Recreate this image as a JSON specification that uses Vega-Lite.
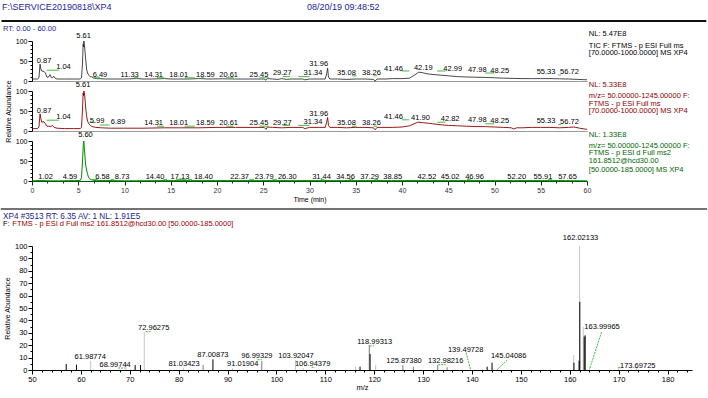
{
"$schema": "https://vega.github.io/schema/vega-lite/v6.json",
"padding": {"left": 0, "right": 0, "top": 2, "bottom": 0},
"config": {
 "font": "Liberation Sans",
 "view": {"stroke": null},
 "axis": {"labelFont": "Liberation Sans", "labelFontSize": 7, "labelColor": "#000", "domainColor": "#000", "tickColor": "#000", "grid": false, "titleFont": "Liberation Sans", "titleFontSize": 7, "titleFontWeight": "normal", "titleColor": "#000", "domainWidth": 1, "tickWidth": 1, "tickSize": 3, "labelOverlap": false, "labelFlush": false, "labelBound": false, "tickCount": 500},
 "text": {"font": "Liberation Sans", "fontSize": 7.5}
},
"datasets": {
 "trace": [
  {"p":1,"t":0,"v":5},{"p":1,"t":0.6,"v":5},{"p":1,"t":0.75,"v":8},{"p":1,"t":0.87,"v":42},{"p":1,"t":0.95,"v":30},{"p":1,"t":1.05,"v":25},{"p":1,"t":1.3,"v":24},{"p":1,"t":1.45,"v":20},{"p":1,"t":1.6,"v":10},{"p":1,"t":1.75,"v":9},{"p":1,"t":1.95,"v":16},{"p":1,"t":2.1,"v":8},{"p":1,"t":2.2,"v":8},{"p":1,"t":2.35,"v":12},{"p":1,"t":2.5,"v":7},{"p":1,"t":2.7,"v":5},{"p":1,"t":3.5,"v":5},{"p":1,"t":4.5,"v":5},{"p":1,"t":5.2,"v":5},{"p":1,"t":5.35,"v":8},{"p":1,"t":5.45,"v":40},{"p":1,"t":5.53,"v":92},{"p":1,"t":5.58,"v":85},{"p":1,"t":5.61,"v":100},{"p":1,"t":5.7,"v":82},{"p":1,"t":5.8,"v":55},{"p":1,"t":5.9,"v":30},{"p":1,"t":6.0,"v":20},{"p":1,"t":6.15,"v":14},{"p":1,"t":6.3,"v":11},{"p":1,"t":6.49,"v":10},{"p":1,"t":6.7,"v":7},{"p":1,"t":7.0,"v":6},{"p":1,"t":8,"v":5},{"p":1,"t":9,"v":5},{"p":1,"t":10,"v":5},{"p":1,"t":11.33,"v":6},{"p":1,"t":12,"v":5},{"p":1,"t":13,"v":5},{"p":1,"t":14.31,"v":6},{"p":1,"t":15,"v":5},{"p":1,"t":16,"v":5},{"p":1,"t":17,"v":5},{"p":1,"t":18.01,"v":6},{"p":1,"t":18.59,"v":5.5},{"p":1,"t":19,"v":5},{"p":1,"t":20.61,"v":5.5},{"p":1,"t":22,"v":5},{"p":1,"t":23,"v":5},{"p":1,"t":24,"v":5},{"p":1,"t":25.1,"v":5},{"p":1,"t":25.3,"v":2},{"p":1,"t":25.45,"v":6},{"p":1,"t":26,"v":5},{"p":1,"t":26.6,"v":4},{"p":1,"t":27,"v":6},{"p":1,"t":27.5,"v":4},{"p":1,"t":28,"v":5},{"p":1,"t":29.27,"v":5},{"p":1,"t":29.5,"v":3},{"p":1,"t":30,"v":5},{"p":1,"t":31,"v":5},{"p":1,"t":31.7,"v":5},{"p":1,"t":31.85,"v":18},{"p":1,"t":31.96,"v":32},{"p":1,"t":32.05,"v":10},{"p":1,"t":32.2,"v":5},{"p":1,"t":33,"v":5},{"p":1,"t":34,"v":4},{"p":1,"t":35.08,"v":5},{"p":1,"t":36,"v":5},{"p":1,"t":36.9,"v":4},{"p":1,"t":37.1,"v":0},{"p":1,"t":37.3,"v":5},{"p":1,"t":38.26,"v":5},{"p":1,"t":39,"v":6},{"p":1,"t":40,"v":6},{"p":1,"t":40.8,"v":7},{"p":1,"t":41.3,"v":14},{"p":1,"t":41.8,"v":22},{"p":1,"t":42.19,"v":21},{"p":1,"t":42.5,"v":19},{"p":1,"t":43,"v":17},{"p":1,"t":44,"v":15},{"p":1,"t":45,"v":13},{"p":1,"t":46,"v":11},{"p":1,"t":47,"v":10},{"p":1,"t":48,"v":9.5},{"p":1,"t":49,"v":9},{"p":1,"t":50,"v":8},{"p":1,"t":51,"v":7},{"p":1,"t":52,"v":6.5},{"p":1,"t":53,"v":6},{"p":1,"t":54,"v":6},{"p":1,"t":55,"v":6},{"p":1,"t":56,"v":6},{"p":1,"t":57,"v":5.5},{"p":1,"t":58,"v":5},{"p":1,"t":59,"v":4},{"p":1,"t":60,"v":3},
  {"p":2,"t":0,"v":6},{"p":2,"t":0.6,"v":6},{"p":2,"t":0.75,"v":10},{"p":2,"t":0.87,"v":43},{"p":2,"t":0.95,"v":32},{"p":2,"t":1.05,"v":22},{"p":2,"t":1.3,"v":23},{"p":2,"t":1.45,"v":18},{"p":2,"t":1.6,"v":12},{"p":2,"t":1.8,"v":12},{"p":2,"t":2.0,"v":11},{"p":2,"t":2.2,"v":14},{"p":2,"t":2.4,"v":9},{"p":2,"t":2.7,"v":7},{"p":2,"t":3.5,"v":6},{"p":2,"t":4.5,"v":6},{"p":2,"t":5.2,"v":6},{"p":2,"t":5.35,"v":9},{"p":2,"t":5.45,"v":50},{"p":2,"t":5.53,"v":95},{"p":2,"t":5.58,"v":88},{"p":2,"t":5.61,"v":100},{"p":2,"t":5.7,"v":88},{"p":2,"t":5.8,"v":60},{"p":2,"t":5.9,"v":38},{"p":2,"t":6.0,"v":25},{"p":2,"t":6.15,"v":18},{"p":2,"t":6.3,"v":14},{"p":2,"t":6.5,"v":11},{"p":2,"t":6.89,"v":9},{"p":2,"t":7.5,"v":8},{"p":2,"t":8.5,"v":7},{"p":2,"t":10,"v":7},{"p":2,"t":12,"v":7},{"p":2,"t":14.31,"v":8},{"p":2,"t":16,"v":8},{"p":2,"t":18,"v":8},{"p":2,"t":20,"v":9},{"p":2,"t":22,"v":9},{"p":2,"t":24,"v":9},{"p":2,"t":25.1,"v":9},{"p":2,"t":25.3,"v":4},{"p":2,"t":25.45,"v":10},{"p":2,"t":26,"v":9},{"p":2,"t":27,"v":8},{"p":2,"t":28,"v":9},{"p":2,"t":29.27,"v":9},{"p":2,"t":29.5,"v":6},{"p":2,"t":30,"v":9},{"p":2,"t":31,"v":9},{"p":2,"t":31.7,"v":9},{"p":2,"t":31.85,"v":22},{"p":2,"t":31.96,"v":34},{"p":2,"t":32.05,"v":14},{"p":2,"t":32.2,"v":9},{"p":2,"t":33,"v":9},{"p":2,"t":34,"v":8},{"p":2,"t":35,"v":9},{"p":2,"t":36,"v":9},{"p":2,"t":36.9,"v":8},{"p":2,"t":37.1,"v":3},{"p":2,"t":37.3,"v":9},{"p":2,"t":38.26,"v":9},{"p":2,"t":39,"v":9},{"p":2,"t":40,"v":10},{"p":2,"t":40.8,"v":13},{"p":2,"t":41.3,"v":18},{"p":2,"t":41.7,"v":22},{"p":2,"t":42.2,"v":21},{"p":2,"t":43,"v":19},{"p":2,"t":44,"v":16},{"p":2,"t":45,"v":14},{"p":2,"t":46,"v":13},{"p":2,"t":47,"v":12},{"p":2,"t":48,"v":11},{"p":2,"t":49,"v":11},{"p":2,"t":50,"v":10},{"p":2,"t":51,"v":9},{"p":2,"t":51.8,"v":8},{"p":2,"t":52.1,"v":5},{"p":2,"t":52.4,"v":8},{"p":2,"t":53,"v":8},{"p":2,"t":54,"v":9},{"p":2,"t":55,"v":9},{"p":2,"t":56,"v":9},{"p":2,"t":57,"v":8},{"p":2,"t":58,"v":9},{"p":2,"t":58.6,"v":10},{"p":2,"t":59.2,"v":7},{"p":2,"t":60,"v":4},
  {"p":3,"t":0,"v":0.5},{"p":3,"t":1.02,"v":1.2},{"p":3,"t":2,"v":0.5},{"p":3,"t":3,"v":0.5},{"p":3,"t":4.59,"v":1},{"p":3,"t":5.2,"v":1},{"p":3,"t":5.35,"v":8},{"p":3,"t":5.45,"v":45},{"p":3,"t":5.55,"v":92},{"p":3,"t":5.6,"v":100},{"p":3,"t":5.68,"v":75},{"p":3,"t":5.78,"v":45},{"p":3,"t":5.88,"v":30},{"p":3,"t":6.0,"v":18},{"p":3,"t":6.1,"v":10},{"p":3,"t":6.3,"v":4},{"p":3,"t":6.58,"v":2},{"p":3,"t":7,"v":1},{"p":3,"t":8.73,"v":1},{"p":3,"t":10,"v":0.5},{"p":3,"t":14.4,"v":1},{"p":3,"t":17.13,"v":1},{"p":3,"t":18.4,"v":1},{"p":3,"t":22.37,"v":1},{"p":3,"t":23.79,"v":1},{"p":3,"t":26.3,"v":1},{"p":3,"t":31.44,"v":1},{"p":3,"t":34.56,"v":1},{"p":3,"t":37.29,"v":1},{"p":3,"t":38.85,"v":1},{"p":3,"t":42.52,"v":1},{"p":3,"t":45.02,"v":1},{"p":3,"t":46.96,"v":1},{"p":3,"t":52.2,"v":1},{"p":3,"t":55.91,"v":1},{"p":3,"t":57.65,"v":1},{"p":3,"t":60,"v":0.5}
 ],
 "marks": [
  {"p":1,"t":1.6,"t2":2.9,"v":27},{"p":1,"t":6.6,"t2":7.35,"v":8},{"p":1,"t":11.0,"t2":11.5,"v":8},{"p":1,"t":13.5,"t2":14.3,"v":8},{"p":1,"t":16.5,"t2":17.6,"v":8},{"p":1,"t":18.3,"t2":18.6,"v":8},{"p":1,"t":21.0,"t2":21.8,"v":8},{"p":1,"t":24.6,"t2":25.6,"v":8},{"p":1,"t":27.1,"t2":27.9,"v":11},{"p":1,"t":28.8,"t2":30.0,"v":11},{"p":1,"t":34.6,"t2":35.1,"v":13},{"p":1,"t":36.9,"t2":37.3,"v":13},{"p":1,"t":40.0,"t2":40.8,"v":25},{"p":1,"t":43.8,"t2":44.7,"v":25},{"p":1,"t":49.0,"t2":49.95,"v":20},{"p":1,"t":56.9,"t2":57.2,"v":15},
  {"p":2,"t":1.6,"t2":2.9,"v":27},{"p":2,"t":6.2,"t2":6.8,"v":22},{"p":2,"t":7.35,"t2":8.4,"v":15},{"p":2,"t":13.5,"t2":14.3,"v":12},{"p":2,"t":16.5,"t2":17.6,"v":12},{"p":2,"t":21.0,"t2":21.8,"v":12},{"p":2,"t":24.6,"t2":25.6,"v":12},{"p":2,"t":27.1,"t2":27.9,"v":14},{"p":2,"t":28.8,"t2":30.0,"v":14},{"p":2,"t":34.6,"t2":35.1,"v":12},{"p":2,"t":36.9,"t2":37.3,"v":12},{"p":2,"t":40.0,"t2":40.8,"v":28},{"p":2,"t":43.8,"t2":44.7,"v":22},{"p":2,"t":49.0,"t2":49.95,"v":18},{"p":2,"t":56.9,"t2":57.2,"v":16},
  {"p":3,"t":6.3,"t2":7.1,"v":4},{"p":3,"t":8.5,"t2":8.9,"v":4},{"p":3,"t":14.2,"t2":14.6,"v":4},{"p":3,"t":15.6,"t2":16.7,"v":4},{"p":3,"t":16.9,"t2":17.3,"v":4},{"p":3,"t":23.5,"t2":24.0,"v":4},{"p":3,"t":26.0,"t2":26.5,"v":4},{"p":3,"t":31.2,"t2":31.6,"v":4},{"p":3,"t":34.3,"t2":34.7,"v":4},{"p":3,"t":37.0,"t2":37.4,"v":4},{"p":3,"t":47.0,"t2":47.4,"v":4},{"p":3,"t":55.8,"t2":56.2,"v":4}
 ],
 "seps": [
  {"p":1,"t":-3.3,"t2":72.9,"v":150}
 ],
 "labels": [
  {"p":1,"rt":"0.87","t":1.3,"v":45},{"p":1,"rt":"1.04","t":3.4,"v":30},{"p":1,"rt":"5.61","t":5.57,"v":107.5},{"p":1,"rt":"6.49","t":7.35,"v":10},{"p":1,"rt":"11.33","t":10.56,"v":10},{"p":1,"rt":"14.31","t":13.15,"v":10},{"p":1,"rt":"18.01","t":15.86,"v":10},{"p":1,"rt":"18.59","t":18.74,"v":11},{"p":1,"rt":"20.61","t":21.26,"v":11},{"p":1,"rt":"25.45","t":24.54,"v":11},{"p":1,"rt":"29.27","t":27.06,"v":14},{"p":1,"rt":"31.34","t":30.38,"v":15},{"p":1,"rt":"31.96","t":31.0,"v":37.5},{"p":1,"rt":"35.08","t":34.0,"v":15},{"p":1,"rt":"38.26","t":36.7,"v":15},{"p":1,"rt":"41.46","t":39.08,"v":26},{"p":1,"rt":"42.19","t":42.3,"v":27.5},{"p":1,"rt":"42.99","t":45.48,"v":25},{"p":1,"rt":"47.98","t":48.14,"v":22.5},{"p":1,"rt":"48.25","t":50.56,"v":21},{"p":1,"rt":"55.33","t":55.57,"v":17.5},{"p":1,"rt":"56.72","t":58.1,"v":17.5},
  {"p":2,"rt":"0.87","t":1.3,"v":46},{"p":2,"rt":"1.04","t":3.4,"v":29},{"p":2,"rt":"5.61","t":5.53,"v":109},{"p":2,"rt":"5.99","t":7.03,"v":21},{"p":2,"rt":"6.89","t":9.3,"v":17},{"p":2,"rt":"14.31","t":13.15,"v":15},{"p":2,"rt":"18.01","t":15.86,"v":15},{"p":2,"rt":"18.59","t":18.74,"v":14},{"p":2,"rt":"20.61","t":21.26,"v":14},{"p":2,"rt":"25.45","t":24.54,"v":14},{"p":2,"rt":"29.27","t":27.06,"v":16},{"p":2,"rt":"31.34","t":30.38,"v":17.5},{"p":2,"rt":"31.96","t":31.0,"v":38},{"p":2,"rt":"35.08","t":34.0,"v":14},{"p":2,"rt":"38.26","t":36.7,"v":14},{"p":2,"rt":"41.46","t":39.08,"v":30},{"p":2,"rt":"41.90","t":42.0,"v":28},{"p":2,"rt":"42.82","t":45.2,"v":24},{"p":2,"rt":"47.98","t":48.14,"v":22},{"p":2,"rt":"48.25","t":50.56,"v":20},{"p":2,"rt":"55.33","t":55.57,"v":20},{"p":2,"rt":"56.72","t":58.1,"v":18},
  {"p":3,"rt":"1.02","t":1.46,"v":4},{"p":3,"rt":"4.59","t":4.1,"v":4},{"p":3,"rt":"5.60","t":5.78,"v":110},{"p":3,"rt":"6.58","t":7.62,"v":4},{"p":3,"rt":"8.73","t":9.73,"v":4},{"p":3,"rt":"14.40","t":13.3,"v":4},{"p":3,"rt":"17.13","t":16.0,"v":4},{"p":3,"rt":"18.40","t":18.54,"v":4},{"p":3,"rt":"22.37","t":22.45,"v":4},{"p":3,"rt":"23.79","t":25.1,"v":4},{"p":3,"rt":"26.30","t":27.6,"v":4},{"p":3,"rt":"31.44","t":31.3,"v":4},{"p":3,"rt":"34.56","t":33.9,"v":4},{"p":3,"rt":"37.29","t":36.5,"v":4},{"p":3,"rt":"38.85","t":39.0,"v":4},{"p":3,"rt":"42.52","t":42.7,"v":4},{"p":3,"rt":"45.02","t":45.2,"v":4},{"p":3,"rt":"46.96","t":47.84,"v":4},{"p":3,"rt":"52.20","t":52.4,"v":4},{"p":3,"rt":"55.91","t":55.24,"v":4},{"p":3,"rt":"57.65","t":57.9,"v":4}
 ],
 "notes": [
  {"p":1,"k":"head","t":-3.24,"v":178.75,"text":"F:\\SERVICE20190818\\XP4"},
  {"p":1,"k":"head","t":29.73,"v":178.75,"text":"08/20/19 09:48:52"},
  {"p":1,"k":"rt","t":-3.14,"v":125,"text":"RT: 0.00 - 60.00"},
  {"p":1,"k":"nl","t":60.2,"v":112.5,"text":"NL: 5.47E8"},
  {"p":1,"k":"nl","t":60.2,"v":82.5,"text":"TIC F: FTMS - p ESI Full ms"},
  {"p":1,"k":"nl","t":60.2,"v":64,"text":"[70.0000-1000.0000] MS XP4"},
  {"p":2,"k":"nl","t":60.2,"v":110,"text":"NL: 5.33E8"},
  {"p":2,"k":"nl","t":60.2,"v":82.5,"text":"m/z= 50.00000-1245.00000 F:"},
  {"p":2,"k":"nl","t":60.2,"v":62.5,"text":"FTMS - p ESI Full ms"},
  {"p":2,"k":"nl","t":60.2,"v":45,"text":"[70.0000-1000.0000] MS XP4"},
  {"p":3,"k":"nl","t":60.2,"v":110,"text":"NL: 1.33E8"},
  {"p":3,"k":"nl","t":60.2,"v":82.5,"text":"m/z= 50.00000-1245.00000 F:"},
  {"p":3,"k":"nl","t":60.2,"v":65,"text":"FTMS - p ESI d Full ms2"},
  {"p":3,"k":"nl","t":60.2,"v":45,"text":"161.8512@hcd30.00"},
  {"p":3,"k":"nl","t":60.2,"v":22.5,"text":"[50.0000-185.0000] MS XP4"},
  {"p":4,"k":"scan","t":44.07,"v":121.8,"text":"XP4 #3513  RT: 6.35  AV: 1  NL: 1.91E5"},
  {"p":4,"k":"f","t":44.07,"v":116.1,"text":"F:"},
  {"p":4,"k":"filter","t":45.98,"v":116.1,"text":"FTMS - p ESI d Full ms2 161.8512@hcd30.00 [50.0000-185.0000]"}
 ],
 "sticks": [
  {"mz":62.0,"i":7.5,"k":"light"},{"mz":69.2,"i":5.9,"k":"light"},{"mz":72.96,"i":30.5,"k":"light"},{"mz":81.0,"i":2.0,"k":"light"},{"mz":91.0,"i":1.5,"k":"light"},{"mz":103.92,"i":8.0,"k":"light"},{"mz":105.5,"i":1.5,"k":"light"},{"mz":116.2,"i":2.7,"k":"light"},{"mz":120.3,"i":4,"k":"light"},{"mz":160.8,"i":12.1,"k":"light"},{"mz":162.02,"i":100,"k":"light"},{"mz":162.75,"i":34.7,"k":"light"},{"mz":164.0,"i":1.5,"k":"light"},{"mz":170.0,"i":1.5,"k":"light"},{"mz":173.7,"i":1.5,"k":"light"},
  {"mz":85.0,"i":4.0,"k":"gray"},{"mz":97.0,"i":7.2,"k":"gray"},{"mz":118.99,"i":20.2,"k":"gray"},{"mz":125.87,"i":4,"k":"gray"},{"mz":128.0,"i":2.7,"k":"gray"},{"mz":133.0,"i":4,"k":"gray"},{"mz":134.9,"i":2.2,"k":"gray"},
  {"mz":57.0,"i":4.8,"k":"dark"},{"mz":59.1,"i":4.3,"k":"dark"},{"mz":71.1,"i":4.0,"k":"dark"},{"mz":72.2,"i":4.0,"k":"dark"},{"mz":87.01,"i":8.6,"k":"dark"},{"mz":117.1,"i":2.7,"k":"dark"},{"mz":119.15,"i":13,"k":"dark"},{"mz":143.1,"i":2.7,"k":"dark"},{"mz":144.1,"i":5.9,"k":"dark"},{"mz":160.85,"i":5.9,"k":"dark"},{"mz":161.9,"i":7.5,"k":"dark"},{"mz":162.05,"i":55,"k":"dark"},{"mz":162.95,"i":27,"k":"dark"},{"mz":163.15,"i":28,"k":"dark"}
 ],
 "leaders": [
  {"mz":67.6,"i":1.6,"mz2":69.0,"i2":1.6},{"mz":73.25,"i":30.9,"mz2":74.5,"i2":30.9},{"mz":96.1,"i":8.3,"mz2":97.0,"i2":8.3},{"mz":107.2,"i":2.2,"mz2":107.9,"i2":2.2},{"mz":119.06,"i":19.4,"mz2":119.9,"i2":19.4},{"mz":133.1,"i":4.3,"mz2":134.6,"i2":4.3},{"mz":138.8,"i":14,"mz2":139.7,"i2":0.5},{"mz":147.2,"i":8,"mz2":145.15,"i2":0.5},{"mz":166.5,"i":30.6,"mz2":164.1,"i2":1.4},{"mz":169.9,"i":1.9,"mz2":170.6,"i2":1.9}
 ],
 "slabels": [
  {"lab":"61.98774","mz":61.9,"i":8.6},{"lab":"68.99744","mz":67.0,"i":2.7},{"lab":"72.96275","mz":74.9,"i":32},{"lab":"81.03423","mz":81.1,"i":3.2},{"lab":"87.00873","mz":87.0,"i":10.7},{"lab":"91.01904","mz":93.1,"i":3.2},{"lab":"96.99329","mz":96.0,"i":9.4},{"lab":"103.92047","mz":104.0,"i":9.9},{"lab":"106.94379","mz":107.4,"i":3.5},{"lab":"118.99313","mz":120.1,"i":20.7},{"lab":"125.87380","mz":126.1,"i":5.9},{"lab":"132.98216","mz":134.6,"i":5.4},{"lab":"139.49728","mz":138.7,"i":14.8},{"lab":"145.04086","mz":147.5,"i":9.4},{"lab":"162.02133","mz":162.2,"i":104.8},{"lab":"163.99965","mz":166.6,"i":32.8},{"lab":"173.69725","mz":173.9,"i":1.9}
 ]
},
"vconcat": [
 {
  "vconcat": [
   {
    "width": 555, "height": 40,
    "layer": [
     {"data": {"name": "trace"}, "transform": [{"filter": "datum.p == 1"}],
      "mark": {"type": "line", "color": "#1a1a1a", "strokeWidth": 0.8},
      "encoding": {
       "x": {"field": "t", "type": "quantitative", "scale": {"domain": [0, 60], "nice": false, "zero": false}, "axis": {"title": null, "labels": false, "ticks": false, "domainColor": "#9a9a9a"}},
       "y": {"field": "v", "type": "quantitative", "scale": {"domain": [0, 100], "nice": false, "zero": false}, "axis": {"title": null, "format": "d", "tickCount": 500, "values": [0,10,20,30,40,50,60,70,80,90,100], "labelExpr": "datum.value % 50 == 0 ? datum.label : ''", "tickSize": {"condition": {"test": "datum.value % 50 == 0", "value": 4}, "value": 2}, "labelPadding": 1, "labelOverlap": false}}
      }},
     {"data": {"name": "marks"}, "transform": [{"filter": "datum.p == 1"}],
      "mark": {"type": "rule", "color": "#3cbf3c", "strokeWidth": 1},
      "encoding": {"x": {"field": "t", "type": "quantitative"}, "x2": {"field": "t2"}, "y": {"field": "v", "type": "quantitative"}}},
     {"data": {"name": "seps"},
      "mark": {"type": "rule", "color": "#111", "strokeWidth": 2, "clip": false},
      "encoding": {"x": {"field": "t", "type": "quantitative"}, "x2": {"field": "t2"}, "y": {"field": "v", "type": "quantitative"}}},
     {"data": {"name": "labels"}, "transform": [{"filter": "datum.p == 1"}],
      "mark": {"type": "text", "align": "center", "baseline": "alphabetic", "fontSize": 7.5, "color": "#000", "clip": false},
      "encoding": {"x": {"field": "t", "type": "quantitative"}, "y": {"field": "v", "type": "quantitative"}, "text": {"field": "rt"}}},
     {"data": {"name": "notes"}, "transform": [{"filter": "datum.p == 1 && datum.k == 'nl'"}],
      "mark": {"type": "text", "align": "left", "baseline": "alphabetic", "fontSize": 7.5, "color": "#000", "clip": false},
      "encoding": {"x": {"field": "t", "type": "quantitative"}, "y": {"field": "v", "type": "quantitative"}, "text": {"field": "text"}}},
     {"data": {"name": "notes"}, "transform": [{"filter": "datum.k == 'head'"}],
      "mark": {"type": "text", "align": "left", "baseline": "alphabetic", "fontSize": 9, "color": "#24249c", "clip": false},
      "encoding": {"x": {"field": "t", "type": "quantitative"}, "y": {"field": "v", "type": "quantitative"}, "text": {"field": "text"}}},
     {"data": {"name": "notes"}, "transform": [{"filter": "datum.k == 'rt'"}],
      "mark": {"type": "text", "align": "left", "baseline": "alphabetic", "fontSize": 7.5, "color": "#24249c", "clip": false},
      "encoding": {"x": {"field": "t", "type": "quantitative"}, "y": {"field": "v", "type": "quantitative"}, "text": {"field": "text"}}}
    ]
   },
   {
    "width": 555, "height": 40,
    "layer": [
     {"data": {"name": "trace"}, "transform": [{"filter": "datum.p == 2"}],
      "mark": {"type": "line", "color": "#8b0000", "strokeWidth": 0.9},
      "encoding": {
       "x": {"field": "t", "type": "quantitative", "scale": {"domain": [0, 60], "nice": false, "zero": false}, "axis": {"title": null, "labels": false, "ticks": false, "domainColor": "#9a9a9a"}},
       "y": {"field": "v", "type": "quantitative", "scale": {"domain": [0, 100], "nice": false, "zero": false}, "axis": {"title": "Relative Abundance", "titlePadding": 4, "format": "d", "tickCount": 500, "values": [0,10,20,30,40,50,60,70,80,90,100], "labelExpr": "datum.value % 50 == 0 ? datum.label : ''", "tickSize": {"condition": {"test": "datum.value % 50 == 0", "value": 4}, "value": 2}, "labelPadding": 1, "labelOverlap": false}}
      }},
     {"data": {"name": "marks"}, "transform": [{"filter": "datum.p == 2"}],
      "mark": {"type": "rule", "color": "#3cbf3c", "strokeWidth": 1},
      "encoding": {"x": {"field": "t", "type": "quantitative"}, "x2": {"field": "t2"}, "y": {"field": "v", "type": "quantitative"}}},
     {"data": {"name": "labels"}, "transform": [{"filter": "datum.p == 2"}],
      "mark": {"type": "text", "align": "center", "baseline": "alphabetic", "fontSize": 7.5, "color": "#000", "clip": false},
      "encoding": {"x": {"field": "t", "type": "quantitative"}, "y": {"field": "v", "type": "quantitative"}, "text": {"field": "rt"}}},
     {"data": {"name": "notes"}, "transform": [{"filter": "datum.p == 2"}],
      "mark": {"type": "text", "align": "left", "baseline": "alphabetic", "fontSize": 7.5, "color": "#8b0000", "clip": false},
      "encoding": {"x": {"field": "t", "type": "quantitative"}, "y": {"field": "v", "type": "quantitative"}, "text": {"field": "text"}}}
    ]
   },
   {
    "width": 555, "height": 40,
    "layer": [
     {"data": {"name": "trace"}, "transform": [{"filter": "datum.p == 3"}],
      "mark": {"type": "line", "color": "#008a00", "strokeWidth": 1},
      "encoding": {
       "x": {"field": "t", "type": "quantitative", "scale": {"domain": [0, 60], "nice": false, "zero": false}, "axis": {"title": "Time (min)", "titlePadding": 2, "tickCount": 500, "values": [0,1.667,3.333,5,6.667,8.333,10,11.667,13.333,15,16.667,18.333,20,21.667,23.333,25,26.667,28.333,30,31.667,33.333,35,36.667,38.333,40,41.667,43.333,45,46.667,48.333,50,51.667,53.333,55,56.667,58.333,60], "labelExpr": "abs(datum.value - 5*round(datum.value/5)) < 0.01 ? format(datum.value, 'd') : ''", "tickSize": {"condition": {"test": "abs(datum.value - 5*round(datum.value/5)) < 0.01", "value": 4}, "value": 2}, "labelOverlap": false, "domainColor": "#005a00", "tickColor": "#003a00", "labelColor": "#333", "labelPadding": 1}},
       "y": {"field": "v", "type": "quantitative", "scale": {"domain": [0, 100], "nice": false, "zero": false}, "axis": {"title": null, "format": "d", "tickCount": 500, "values": [0,10,20,30,40,50,60,70,80,90,100], "labelExpr": "datum.value % 50 == 0 ? datum.label : ''", "tickSize": {"condition": {"test": "datum.value % 50 == 0", "value": 4}, "value": 2}, "labelPadding": 1, "labelOverlap": false}}
      }},
     {"data": {"name": "marks"}, "transform": [{"filter": "datum.p == 3"}],
      "mark": {"type": "rule", "color": "#3cbf3c", "strokeWidth": 1},
      "encoding": {"x": {"field": "t", "type": "quantitative"}, "x2": {"field": "t2"}, "y": {"field": "v", "type": "quantitative"}}},
     {"data": {"name": "labels"}, "transform": [{"filter": "datum.p == 3"}],
      "mark": {"type": "text", "align": "center", "baseline": "alphabetic", "fontSize": 7.5, "color": "#000", "clip": false},
      "encoding": {"x": {"field": "t", "type": "quantitative"}, "y": {"field": "v", "type": "quantitative"}, "text": {"field": "rt"}}},
     {"data": {"name": "notes"}, "transform": [{"filter": "datum.p == 3"}],
      "mark": {"type": "text", "align": "left", "baseline": "alphabetic", "fontSize": 7.5, "color": "#006400", "clip": false},
      "encoding": {"x": {"field": "t", "type": "quantitative"}, "y": {"field": "v", "type": "quantitative"}, "text": {"field": "text"}}}
    ]
   }
  ],
  "spacing": 10,
  "bounds": "flush"
 },
 {
  "width": 660, "height": 124,
  "layer": [
   {"data": {"name": "sticks"},
    "mark": {"type": "rule", "strokeWidth": 1},
    "encoding": {
     "x": {"field": "mz", "type": "quantitative", "scale": {"domain": [50, 185], "nice": false, "zero": false}, "axis": {"title": "m/z", "titlePadding": 1, "titleFontSize": 7.5, "format": "d", "tickCount": 500, "values": [50,52,54,56,58,60,62,64,66,68,70,72,74,76,78,80,82,84,86,88,90,92,94,96,98,100,102,104,106,108,110,112,114,116,118,120,122,124,126,128,130,132,134,136,138,140,142,144,146,148,150,152,154,156,158,160,162,164,166,168,170,172,174,176,178,180,182,184], "labelExpr": "datum.value % 10 == 0 ? datum.label : ''", "tickSize": {"condition": {"test": "datum.value % 10 == 0", "value": 4}, "value": 2}, "labelOverlap": false, "labelPadding": 1, "labelFontSize": 7.5}},
     "y": {"field": "i", "type": "quantitative", "scale": {"domain": [0, 100], "nice": false, "zero": false}, "axis": {"title": "Relative Abundance", "titlePadding": 4, "format": "d", "tickCount": 500, "values": [0,5,10,15,20,25,30,35,40,45,50,55,60,65,70,75,80,85,90,95,100], "labelExpr": "datum.value % 10 == 0 ? datum.label : ''", "tickSize": {"condition": {"test": "datum.value % 10 == 0", "value": 4}, "value": 2}, "labelOverlap": false, "labelPadding": 1, "labelFontSize": 7.5}},
     "y2": {"datum": 0},
     "color": {"field": "k", "type": "nominal", "scale": {"domain": ["light", "gray", "dark"], "range": ["#c4c4c4", "#7a7a7a", "#000000"]}, "legend": null}
    }},
   {"data": {"name": "leaders"},
    "mark": {"type": "rule", "color": "#3cbf3c", "strokeWidth": 1, "strokeDash": [2, 1]},
    "encoding": {"x": {"field": "mz", "type": "quantitative"}, "x2": {"field": "mz2"}, "y": {"field": "i", "type": "quantitative"}, "y2": {"field": "i2"}}},
   {"data": {"name": "slabels"},
    "mark": {"type": "text", "align": "center", "baseline": "alphabetic", "fontSize": 7.5, "color": "#000", "clip": false},
    "encoding": {"x": {"field": "mz", "type": "quantitative"}, "y": {"field": "i", "type": "quantitative"}, "text": {"field": "lab"}}},
   {"data": {"name": "notes"}, "transform": [{"filter": "datum.p == 4 && datum.k == 'scan'"}],
    "mark": {"type": "text", "align": "left", "baseline": "alphabetic", "fontSize": 8.2, "color": "#1e1e8c", "clip": false},
    "encoding": {"x": {"field": "t", "type": "quantitative"}, "y": {"field": "v", "type": "quantitative"}, "text": {"field": "text"}}},
   {"data": {"name": "notes"}, "transform": [{"filter": "datum.p == 4 && datum.k != 'scan'"}],
    "mark": {"type": "text", "align": "left", "baseline": "alphabetic", "fontSize": 7.5, "clip": false},
    "encoding": {"x": {"field": "t", "type": "quantitative"}, "y": {"field": "v", "type": "quantitative"}, "text": {"field": "text"},
     "color": {"field": "k", "type": "nominal", "scale": {"domain": ["f", "filter"], "range": ["#000000", "#a00000"]}, "legend": null}}},
   {"data": {"values": [{}]},
    "mark": {"type": "rule", "color": "#444", "strokeWidth": 1.5, "clip": false},
    "encoding": {"x": {"datum": 43.61, "type": "quantitative"}, "x2": {"datum": 188.09}, "y": {"datum": 129.8, "type": "quantitative"}}}
  ],
  "resolve": {"scale": {"color": "independent"}}
 }
],
"spacing": 6
}
